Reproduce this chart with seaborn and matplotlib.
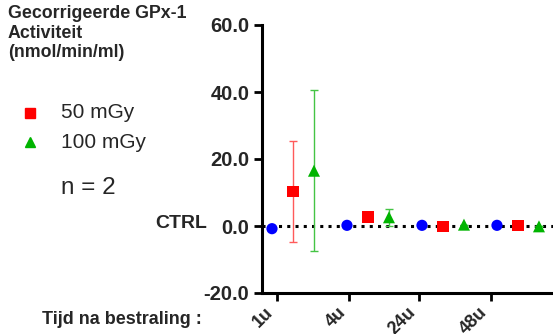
import numpy as np
import pandas as pd
import matplotlib
matplotlib.use("Agg")
import matplotlib.pyplot as plt
import seaborn as sns

# --- data ---
tijden = ["1u", "4u", "24u", "48u"]
ctrl = [-0.8, 0.2, 0.2, 0.2]
mgy50 = [10.3, 2.7, -0.2, 0.2]
mgy50_err = [15.2, 0.0, 0.0, 0.0]
mgy100 = [16.5, 2.6, 0.4, -0.1]
mgy100_err = [24.0, 2.5, 0.0, 0.0]

# layout of the groups (in units of one group width)
groep = np.arange(len(tijden))
offset_50 = 0.28
offset_100 = 0.56
tick_pos = [0.067, 1.027, 1.96, 2.92]

W, H = 553, 334
sns.set_style("ticks")
plt.rcParams["font.family"] = ["Liberation Sans", "DejaVu Sans"]

fig = plt.figure(figsize=(W / 100, H / 100), dpi=100)
ax = fig.add_axes([262 / W, (H - 293) / H, (570 - 262) / W, (293 - 25) / H])

# stippellijn op CTRL-niveau
ax.axhline(0, color="black", lw=2.2, ls=(0, (1, 1.7)), zorder=1)

# foutbalken
ax.errorbar(groep + offset_50, mgy50, yerr=mgy50_err, fmt="none",
            ecolor="#ff5a5a", elinewidth=1, capsize=3, capthick=1, zorder=2)
ax.errorbar(groep + offset_100, mgy100, yerr=mgy100_err, fmt="none",
            ecolor="#44c444", elinewidth=1, capsize=3, capthick=1, zorder=2)

sns.scatterplot(x=groep, y=ctrl, marker="o", color="#0000ff", s=65,
                edgecolor="none", ax=ax, zorder=3, legend=False)
sns.scatterplot(x=groep + offset_50, y=mgy50, marker="s", color="#ff0000", s=65,
                edgecolor="none", ax=ax, zorder=3, legend=False)
sns.scatterplot(x=groep + offset_100, y=mgy100, marker="^", color="#00b400", s=75,
                edgecolor="none", ax=ax, zorder=3, legend=False)

ax.set_xlim(-0.133, -0.133 + 308 / 75)
ax.set_ylim(-20, 60)
ax.set_yticks([-20, 0, 20, 40, 60])
ax.set_yticklabels([f"{v:.1f}" for v in [-20, 0, 20, 40, 60]],
                   fontsize=14.5, fontweight="bold")
ax.set_xticks(tick_pos)
ax.set_xticklabels(tijden, rotation=45, ha="right", fontsize=13, fontweight="bold")
ax.tick_params(axis="both", length=6, width=2, color="black", pad=3)
ax.tick_params(axis="x", pad=2)
for s in ["left", "bottom"]:
    ax.spines[s].set_linewidth(2.2)
    ax.spines[s].set_color("black")
sns.despine(ax=ax)
ax.set_xlabel("")
ax.set_ylabel("")

# teksten links
fig.text(8 / W, 1 - 5 / H, "Gecorrigeerde GPx-1\nActiviteit\n(nmol/min/ml)",
         ha="left", va="top", fontsize=12.8, fontweight="bold", linespacing=1.2)
fig.text(207 / W, 1 - 224 / H, "CTRL", ha="right", va="center",
         fontsize=14, fontweight="bold")
fig.text(42 / W, 1 - 320 / H, "Tijd na bestraling :", ha="left", va="center",
         fontsize=13, fontweight="bold")
fig.text(61 / W, 1 - 188 / H, "n = 2", ha="left", va="center", fontsize=17.5)

# legenda
fig.text(61 / W, 1 - 113 / H, "50 mGy", ha="left", va="center", fontsize=15)
fig.text(61 / W, 1 - 142 / H, "100 mGy", ha="left", va="center", fontsize=15)
fig.lines.append(plt.Line2D([30 / W], [1 - 113 / H], marker="s", color="#ff0000",
                            markersize=7, ls="none", transform=fig.transFigure))
fig.lines.append(plt.Line2D([30 / W], [1 - 142 / H], marker="^", color="#00b400",
                            markersize=7.5, ls="none", transform=fig.transFigure))

fig.savefig("out.png", dpi=100)
